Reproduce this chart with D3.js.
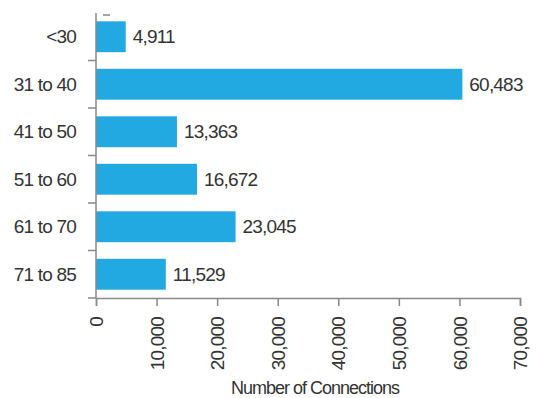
<!DOCTYPE html>
<html>
<head>
<meta charset="utf-8">
<script src="https://cdn.jsdelivr.net/npm/d3@7"></script>
<style>
  html, body { margin: 0; padding: 0; background: #fff; }
  svg { display: block; }
  text { font-family: "Liberation Sans", Arial, sans-serif; fill: #333; }
</style>
</head>
<body>
<svg id="chart" width="542" height="398"></svg>
<script>
// Connections by age group
const ageGroups = ["<30", "31 to 40", "41 to 50", "51 to 60", "61 to 70", "71 to 85"];
const connections = [4911, 60483, 13363, 16672, 23045, 11529];
const xTicks = [0, 10000, 20000, 30000, 40000, 50000, 60000, 70000];
const xTitle = "Number of Connections";

const svg = d3.select("#chart");
const plotLeft = 96, plotRight = 520, plotTop = 13, plotBottom = 298;
const axisColor = "#888";
const barColor = "#23a9e1";
const fmt = d3.format(",");
const labelSize = "19px", labelTrack = "-0.8px";

const x = d3.scaleLinear().domain([0, 70000]).range([plotLeft, plotRight]);
const y = d3.scaleBand()
  .domain(ageGroups)
  .range([plotTop, plotBottom])
  .paddingInner(0.35)
  .paddingOuter(0.175);

const rows = ageGroups.map((g, i) => ({ group: g, value: connections[i] }));

// bars
svg.append("g").selectAll("rect")
  .data(rows)
  .join("rect")
  .attr("x", x(0))
  .attr("y", d => y(d.group))
  .attr("width", d => x(d.value) - x(0))
  .attr("height", y.bandwidth())
  .attr("fill", barColor);

// value labels
svg.append("g").selectAll("text")
  .data(rows)
  .join("text")
  .attr("x", d => x(d.value) + 7)
  .attr("y", d => y(d.group) + y.bandwidth() / 2)
  .attr("dy", "0.35em")
  .style("font-size", labelSize)
  .style("letter-spacing", labelTrack)
  .text(d => fmt(d.value));

// y axis: line, boundary ticks, category labels
const yAxis = svg.append("g");
yAxis.append("line")
  .attr("x1", plotLeft).attr("x2", plotLeft)
  .attr("y1", plotTop).attr("y2", plotBottom)
  .attr("stroke", axisColor).attr("stroke-width", 1.5);

const step = y.step();
const boundaries = d3.range(1, ageGroups.length + 1).map(i => plotTop + i * step);
yAxis.selectAll("line.tick")
  .data(boundaries)
  .join("line")
  .attr("class", "tick")
  .attr("x1", plotLeft - 8).attr("x2", plotLeft)
  .attr("y1", d => d).attr("y2", d => d)
  .attr("stroke", axisColor).attr("stroke-width", 1.5);

// small cap mark near the top of the axis
yAxis.append("line")
  .attr("x1", plotLeft + 7).attr("x2", plotLeft + 14)
  .attr("y1", plotTop + 2).attr("y2", plotTop + 2)
  .attr("stroke", axisColor).attr("stroke-width", 1.5);

yAxis.selectAll("text")
  .data(ageGroups)
  .join("text")
  .attr("x", plotLeft - 20)
  .attr("y", d => y(d) + y.bandwidth() / 2)
  .attr("dy", "0.35em")
  .attr("text-anchor", "end")
  .style("font-size", labelSize)
  .style("letter-spacing", labelTrack)
  .text(d => d);

// x axis
const xAxis = svg.append("g")
  .attr("transform", `translate(0,${plotBottom})`)
  .call(d3.axisBottom(x).tickValues(xTicks).tickFormat(fmt).tickSize(8).tickPadding(10));
xAxis.select(".domain").attr("stroke", axisColor).attr("stroke-width", 1.5);
xAxis.selectAll(".tick line").attr("stroke", axisColor).attr("stroke-width", 1.5);
xAxis.selectAll(".tick text")
  .attr("transform", "rotate(-90)")
  .attr("x", -19)
  .attr("y", 0)
  .attr("dy", "0.35em")
  .attr("text-anchor", "end")
  .attr("fill", "#333")
  .style("font-family", "'Liberation Sans', Arial, sans-serif")
  .style("font-size", labelSize)
  .style("letter-spacing", labelTrack);

// x axis title
svg.append("text")
  .attr("x", (plotLeft + plotRight) / 2 + 7)
  .attr("y", 394)
  .attr("text-anchor", "middle")
  .style("font-size", "18px")
  .style("letter-spacing", "-1px")
  .text(xTitle);
</script>
</body>
</html>
